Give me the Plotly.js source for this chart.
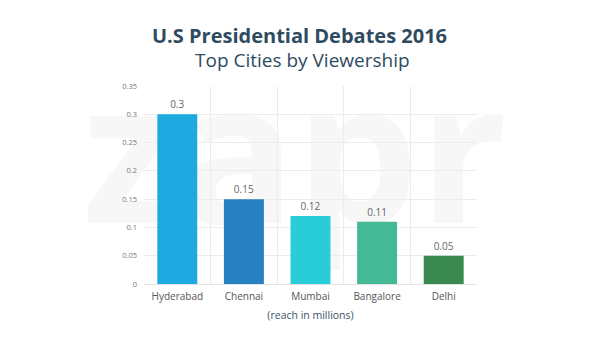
<!DOCTYPE html>
<html>
<head>
<meta charset="utf-8">
<script src="https://cdn.plot.ly/plotly-3.0.1.min.js"></script>
<style>html,body{margin:0;padding:0;background:#fff;}#chart{width:600px;height:337px;}</style>
</head>
<body>
<div id="chart"></div>
<script>
const cities = ["Hyderabad", "Chennai", "Mumbai", "Bangalore", "Delhi"];
const reach = [0.3, 0.15, 0.12, 0.11, 0.05];
const barColors = ["#1fa9e1", "#2680c2", "#29cdd9", "#45b995", "#3a8a50"];
const yTicks = [0, 0.05, 0.1, 0.15, 0.2, 0.25, 0.3, 0.35];
const yTickText = ["0", "0.05", "0.1", "0.15", "0.2", "0.25", "0.3", "0.35"];

const font = "'Open Sans', sans-serif";

const trace = {
  type: "bar",
  x: cities,
  y: reach,
  marker: {color: barColors},
  text: reach.map(String),
  textposition: "outside",
  textfont: {family: font, size: 10, color: "#666"},
  cliponaxis: false,
  hoverinfo: "x+y"
};

const plotL = 144, plotR = 123, plotT = 86, plotB = 53;
const plotW = 600 - plotL - plotR, plotH = 337 - plotT - plotB;
function px(xp){return (xp - plotL) / plotW;}
function py(yp){return (337 - plotB - yp) / plotH;}

const layout = {
  width: 600, height: 337,
  margin: {l: plotL, r: plotR, t: plotT, b: plotB},
  paper_bgcolor: "#fff", plot_bgcolor: "rgba(0,0,0,0)",
  showlegend: false,
  bargap: 0.4,
  font: {family: font},
  xaxis: {
    type: "category",
    tickson: "boundaries",
    showgrid: true, gridcolor: "#ececec", gridwidth: 1,
    ticks: "", showline: false, zeroline: false,
    ticklabelstandoff: 5,
    tickfont: {family: font, size: 10, color: "#555"},
    title: {text: "(reach in millions)", font: {family: font, size: 10.5, color: "#3a5468"}, standoff: 9}
  },
  yaxis: {
    range: [0, 0.35],
    tickvals: yTicks, ticktext: yTickText,
    showgrid: true, gridcolor: "#ececec", gridwidth: 1,
    zeroline: true, zerolinecolor: "#e4e4e4",
    ticks: "", ticklabelstandoff: 6,
    tickfont: {family: font, size: 7.5, color: "#777"},
    fixedrange: true
  },
  shapes: [{
    type: "rect", xref: "paper", yref: "paper",
    x0: px(106), x1: px(484), y0: py(230), y1: py(90),
    layer: "below", line: {width: 0}, fillcolor: "rgba(0,0,0,0)",
    label: {text: "<b>zapr</b>", font: {family: "'Open Sans', sans-serif", size: 195, color: "#f7f7f7"}, textposition: "middle center"}
  }],
  annotations: [
    {text: "<b>U.S Presidential Debates 2016</b>", xref: "paper", yref: "paper", x: px(299), y: py(35), xanchor: "center", yanchor: "middle", showarrow: false,
     font: {family: font, size: 20, color: "#2f4b5f"}},
    {text: "Top Cities by Viewership", xref: "paper", yref: "paper", x: px(302), y: py(60), xanchor: "center", yanchor: "middle", showarrow: false,
     font: {family: font, size: 19, color: "#2f4b5f"}}
  ]
};

Plotly.newPlot("chart", [trace], layout, {displayModeBar: false, staticPlot: true});
</script>
</body>
</html>
